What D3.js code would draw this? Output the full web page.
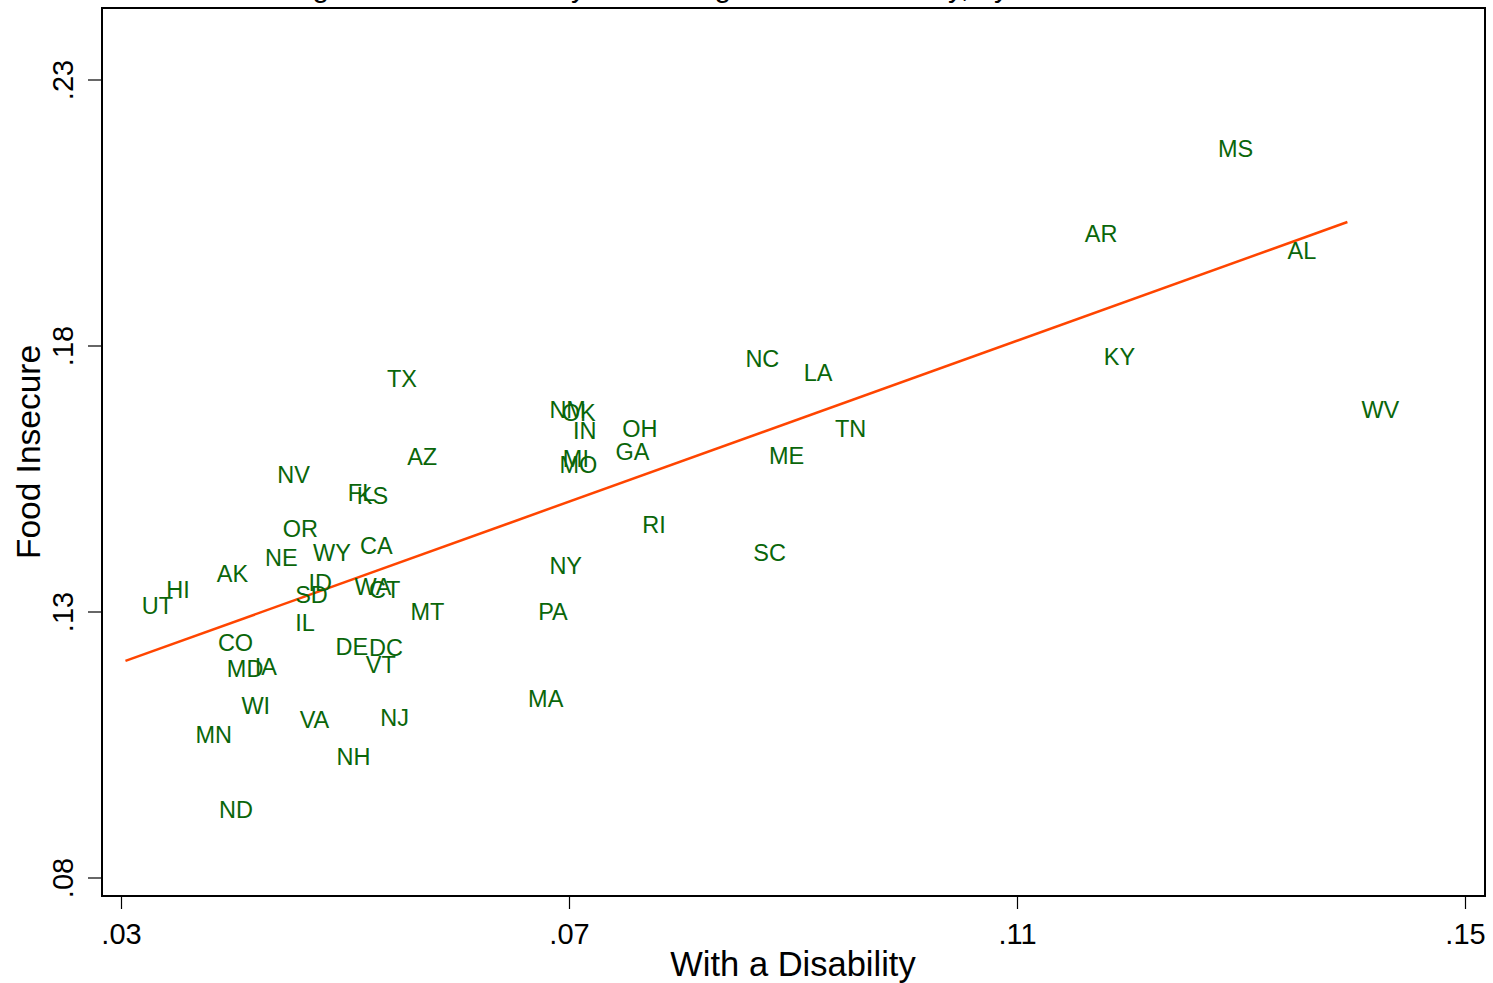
<!DOCTYPE html>
<html><head><meta charset="utf-8">
<script src="https://cdn.jsdelivr.net/npm/d3@7"></script>
<style>
html,body{margin:0;padding:0;background:#fff;overflow:hidden;}
text{font-family:"Liberation Sans",Arial,Helvetica,sans-serif;}
</style></head>
<body>
<svg id="chart" width="1493" height="983"></svg>
<script>
const states = ["MS","AR","AL","KY","WV","NC","LA","TN","ME","SC","RI","OH","GA","NM","OK","IN","MI","MO","NY","PA","MA","TX","AZ","NV","FL","KS","OR","NE","WY","CA","AK","HI","UT","ID","SD","WA","CT","MT","IL","CO","DE","DC","MD","IA","VT","WI","VA","NJ","MN","NH","ND"];
const disability = [0.1267,0.1148,0.1329,0.1165,0.1395,0.0845,0.0897,0.0925,0.0866,0.0852,0.0753,0.0735,0.0729,0.0670,0.0681,0.0691,0.0682,0.0679,0.0670,0.0660,0.0651,0.0525,0.0543,0.0427,0.0490,0.0498,0.0432,0.0416,0.0459,0.0501,0.0373,0.0328,0.0306,0.0455,0.0443,0.0496,0.0509,0.0546,0.0443,0.0374,0.0479,0.0509,0.0382,0.0407,0.0506,0.0395,0.0447,0.0519,0.0354,0.0480,0.0375];
const foodInsecure = [0.2172,0.2011,0.1979,0.1781,0.1680,0.1777,0.1751,0.1644,0.1595,0.1411,0.1464,0.1644,0.1601,0.1680,0.1674,0.1642,0.1589,0.1578,0.1388,0.1300,0.1138,0.1738,0.1593,0.1559,0.1524,0.1518,0.1456,0.1403,0.1411,0.1424,0.1373,0.1343,0.1313,0.1356,0.1332,0.1347,0.1343,0.1300,0.1281,0.1242,0.1236,0.1234,0.1193,0.1197,0.1202,0.1125,0.1097,0.1101,0.1069,0.1029,0.0928];
const fitX = [0.0304, 0.1395];
const fitY = [0.1208, 0.2033];
const xTicks = [0.03, 0.07, 0.11, 0.15];
const yTicks = [0.08, 0.13, 0.18, 0.23];
const xTitle = "With a Disability";
const yTitle = "Food Insecure";
const chartTitle = "Percentage Food Insecure by Percentage with a Disability, by State";

const svg = d3.select("#chart");
const L = 102, R = 1485, T = 8, B = 896;
const x = d3.scaleLinear().domain([0.03, 0.15]).range([121, 1465]);
const y = d3.scaleLinear().domain([0.08, 0.23]).range([878, 80]);
const fmt = d => d3.format(".2f")(d).replace(/^0/, "");

// cut-off title
svg.append("text").attr("x", 640).attr("y", -3).attr("text-anchor", "middle")
  .attr("font-size", 30).attr("fill", "#000").text(chartTitle);

// plot frame
svg.append("rect").attr("x", L).attr("y", T).attr("width", R - L).attr("height", B - T)
  .attr("fill", "#fff").attr("stroke", "#000").attr("stroke-width", 2);

// x axis
const xAxis = svg.append("g").attr("transform", `translate(0,${B})`)
  .call(d3.axisBottom(x).tickValues(xTicks).tickFormat(fmt).tickSize(13).tickPadding(14));
xAxis.select(".domain").remove();
xAxis.selectAll("line").attr("stroke", "#000").attr("stroke-width", 1.2);
xAxis.selectAll("text").attr("font-size", 29).attr("fill", "#000")
  .style("font-family", '"Liberation Sans",Arial,sans-serif');

// y axis
const yAxis = svg.append("g").attr("transform", `translate(${L},0)`)
  .call(d3.axisLeft(y).tickValues(yTicks).tickFormat(fmt).tickSize(14).tickPadding(0));
yAxis.select(".domain").remove();
yAxis.selectAll("line").attr("stroke", "#000").attr("stroke-width", 1.2);
yAxis.selectAll(".tick").each(function(d){
  const g = d3.select(this);
  g.attr("transform", null);
  g.select("line").attr("x1", -14).attr("x2", 0).attr("y1", y(d)).attr("y2", y(d));
  g.select("text").attr("transform", `translate(-39,${y(d)}) rotate(-90)`)
    .attr("x", 0).attr("y", 0).attr("dy", "0.36em")
    .attr("text-anchor", "middle").attr("font-size", 29).attr("fill", "#000")
    .style("font-family", '"Liberation Sans",Arial,sans-serif');
});

// axis titles
svg.append("text").attr("x", 793).attr("y", 976).attr("text-anchor", "middle")
  .attr("font-size", 34.5).attr("fill", "#000").text(xTitle);
svg.append("text").attr("transform", `translate(40,${(T + B) / 2}) rotate(-90)`)
  .attr("text-anchor", "middle").attr("font-size", 33.5).attr("fill", "#000").text(yTitle);

// fit line
svg.append("line").attr("x1", x(fitX[0])).attr("y1", y(fitY[0]))
  .attr("x2", x(fitX[1])).attr("y2", y(fitY[1]))
  .attr("stroke", "#ff4500").attr("stroke-width", 2.5);

// state labels (marker hidden, label to the right)
svg.append("g").selectAll("text").data(states).join("text")
  .attr("x", (d, i) => x(disability[i]) + 14)
  .attr("y", (d, i) => y(foodInsecure[i]))
  .attr("dy", "0.36em")
  .attr("font-size", 23.5).attr("fill", "#0a660a")
  .text(d => d);
</script>
</body></html>
